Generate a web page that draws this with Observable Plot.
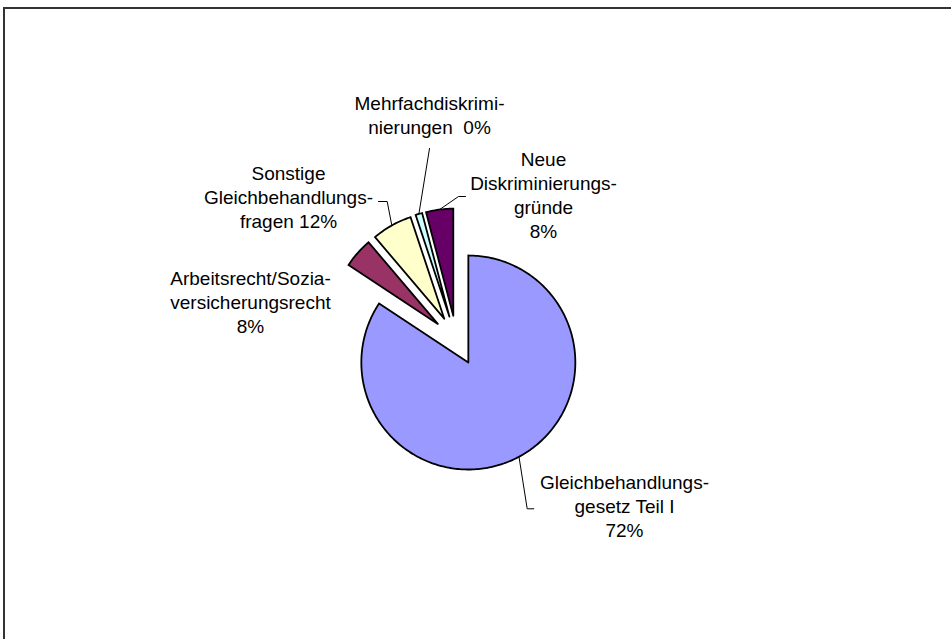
<!DOCTYPE html>
<html><head><meta charset="utf-8">
<script src="https://cdn.jsdelivr.net/npm/d3@7"></script>
<script src="https://cdn.jsdelivr.net/npm/@observablehq/plot@0.6"></script>
<style>
html,body{margin:0;padding:0;background:#fff;overflow:hidden;width:951px;height:639px}
#chart{position:absolute;left:0;top:0}
#frame{position:absolute;left:3px;top:7px;width:1000px;height:700px;border-left:2px solid #333;border-top:2px solid #333;pointer-events:none}
svg text{white-space:pre}
</style></head><body><div id="chart"></div><div id="frame"></div>
<script>
// ---- data ----
const categories = ["Gleichbehandlungsgesetz Teil I", "Arbeitsrecht/Sozialversicherungsrecht", "Sonstige Gleichbehandlungsfragen", "Mehrfachdiskriminierungen", "Neue Diskriminierungsgründe"];
const shares = [84.3, 4.5, 6.1, 1.0, 4.1];
const labelTexts = ["Gleichbehandlungs-\ngesetz Teil I\n72%", "Arbeitsrecht/Sozia-\nversicherungsrecht\n8%", "Sonstige\nGleichbehandlungs-\nfragen 12%", "Mehrfachdiskrimi-\nnierungen  0%", "Neue\nDiskriminierungs-\ngründe\n8%"];
const colors = ["#9999FF", "#993366", "#FFFFCC", "#CCFFFF", "#660066"];

// ---- layout (pixels) ----
const W = 951, H = 639;
const PIE = {cx: 456, cy: 340, r: 107, explode: 25};
const labelLayout = [
  {dx: 168, dy: 165, leader: [[70.7, 168.3], [77.3, 168.3]]},
  {dx: -206, dy: -39, leader: null},
  {dx: -168, dy: -144, leader: [[-69.3, -139], [-78, -139]]},
  {dx: -27, dy: -226, leader: [[-27, -192]]},
  {dx: 87, dy: -146, leader: [[2, -144], [9, -144]]}
];

// ---- geometry in pie units (radius = 1) ----
const total = d3.sum(shares);
let acc = 0;
const slices = categories.map((c, i) => {
  const a0 = acc / total * 2 * Math.PI; acc += shares[i];
  const a1 = acc / total * 2 * Math.PI;
  const m = (a0 + a1) / 2;
  const e = PIE.explode / PIE.r;
  return {c, i, a0, a1, m, ox: e * Math.sin(m), oy: e * Math.cos(m)};
});
const poly = [];
for (const s of slices) {
  poly.push({c: s.c, x: s.ox, y: s.oy});
  const n = Math.max(2, Math.ceil((s.a1 - s.a0) / (Math.PI / 180)));
  for (let k = 0; k <= n; k++) {
    const a = s.a0 + (s.a1 - s.a0) * k / n;
    poly.push({c: s.c, x: s.ox + Math.sin(a), y: s.oy + Math.cos(a)});
  }
  poly.push({c: s.c, x: s.ox, y: s.oy});
}
const U = (dx) => dx / PIE.r;
const labels = slices.map((s, i) => ({text: labelTexts[i], x: U(labelLayout[i].dx), y: -U(labelLayout[i].dy)}));
const leaders = [];
slices.forEach((s, i) => {
  const L = labelLayout[i].leader;
  if (!L) return;
  leaders.push({c: s.c, x: s.ox + Math.sin(s.m), y: s.oy + Math.cos(s.m)});
  for (const [dx, dy] of L) leaders.push({c: s.c, x: U(dx), y: -U(dy)});
});

const chart = Plot.plot({
  width: W, height: H, margin: 0,
  style: {background: "transparent", overflow: "visible"},
  x: {domain: [-PIE.cx / PIE.r, (W - PIE.cx) / PIE.r], range: [0, W], axis: null},
  y: {domain: [PIE.cy / PIE.r, -(H - PIE.cy) / PIE.r], range: [0, H], axis: null},
  color: {domain: categories, range: colors},
  marks: [
    Plot.line(leaders, {x: "x", y: "y", z: "c", stroke: "#000", strokeWidth: 1, strokeLinejoin: "miter"}),
    Plot.line(poly, {x: "x", y: "y", z: "c", fill: "c", stroke: "#000", strokeWidth: 1.8, strokeLinejoin: "miter", strokeMiterlimit: 4}),
    Plot.text(labels, {x: "x", y: "y", text: "text", fontSize: 19, fontFamily: "'Liberation Sans', Arial, sans-serif", lineHeight: 1.25, fill: "#000", textAnchor: "middle", lineAnchor: "middle"})
  ]
});
document.getElementById("chart").appendChild(chart);
</script></body></html>
